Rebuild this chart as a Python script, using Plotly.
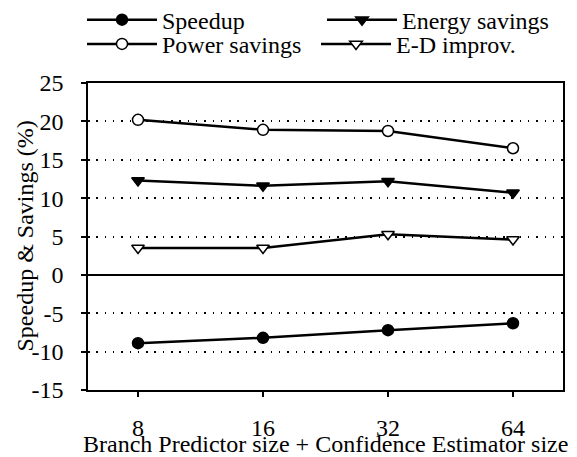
import plotly.graph_objects as go

categories = ["8", "16", "32", "64"]
speedup = [-8.9, -8.2, -7.2, -6.3]
energy_savings = [12.3, 11.6, 12.2, 10.7]
power_savings = [20.2, 18.9, 18.75, 16.5]
ed_improv = [3.5, 3.5, 5.3, 4.6]
y_ticks = [-15, -10, -5, 0, 5, 10, 15, 20, 25]
y_tick_text = ["-15", "-10", "-5", "0", "5", "10", "15", "20", "25"]
x_title = "Branch Predictor size + Confidence Estimator size"
y_title = "Speedup & Savings (%)"

FONT = "Liberation Serif"
FS = 24

def trace(name, y, symbol, fill, legend):
    return go.Scatter(
        x=categories, y=y, name=name, mode="lines+markers", legend=legend,
        line=dict(color="black", width=2.5),
        marker=dict(symbol=symbol, size=11, color=fill,
                    line=dict(color="black", width=1.5)),
    )

fig = go.Figure()
fig.add_trace(trace("Speedup", speedup, "circle", "black", "legend"))
fig.add_trace(trace("Energy savings", energy_savings, "triangle-down", "black", "legend"))
fig.add_trace(trace("Power savings", power_savings, "circle", "white", "legend2"))
fig.add_trace(trace("E-D improv.", ed_improv, "triangle-down", "white", "legend2"))

leg_common = dict(
    orientation="h", xanchor="left", yanchor="middle",
    itemwidth=70, traceorder="normal",
    bgcolor="rgba(0,0,0,0)", font=dict(family=FONT, size=FS),
    itemclick=False,
)

fig.update_layout(
    width=577, height=457,
    margin=dict(l=88, r=14, t=83, b=67, autoexpand=False),
    paper_bgcolor="white", plot_bgcolor="white",
    font=dict(family=FONT, size=FS, color="black"),
    showlegend=True,
    legend=dict(x=-0.0126, y=1.205, entrywidth=155, **leg_common),
    legend2=dict(x=-0.0126, y=1.126, entrywidth=149, **leg_common),
    xaxis=dict(
        type="category", range=[-0.4, 3.4], automargin=False,
        showline=True, linecolor="black", linewidth=1.5, mirror=True,
        ticks="outside", ticklen=5, tickwidth=1.5, tickcolor="black",
        showgrid=False, zeroline=False,
        ticklabelstandoff=10,
    ),
    yaxis=dict(
        range=[-15, 25], tickvals=y_ticks, ticktext=y_tick_text, automargin=False,
        showline=True, linecolor="black", linewidth=1.5, mirror=True,
        ticks="outside", ticklen=5, tickwidth=1.5, tickcolor="black",
        showgrid=True, gridcolor="black", gridwidth=1.5, griddash="1.5px,6.8px",
        zeroline=True, zerolinecolor="black", zerolinewidth=1.5,
        ticklabelstandoff=13,
    ),
    annotations=[
        dict(text=x_title, xref="paper", yref="paper", x=0.5, y=-0.1775,
             xanchor="center", yanchor="middle", showarrow=False,
             font=dict(family=FONT, size=FS)),
        dict(text=y_title, xref="paper", yref="paper", x=-0.1347, y=0.5,
             xanchor="center", yanchor="middle", showarrow=False, textangle=-90,
             font=dict(family=FONT, size=FS)),
    ],
)

fig.write_html("out.html", config={"displayModeBar": False},
               post_script="document.body.style.margin='0';document.body.style.padding='0';")
